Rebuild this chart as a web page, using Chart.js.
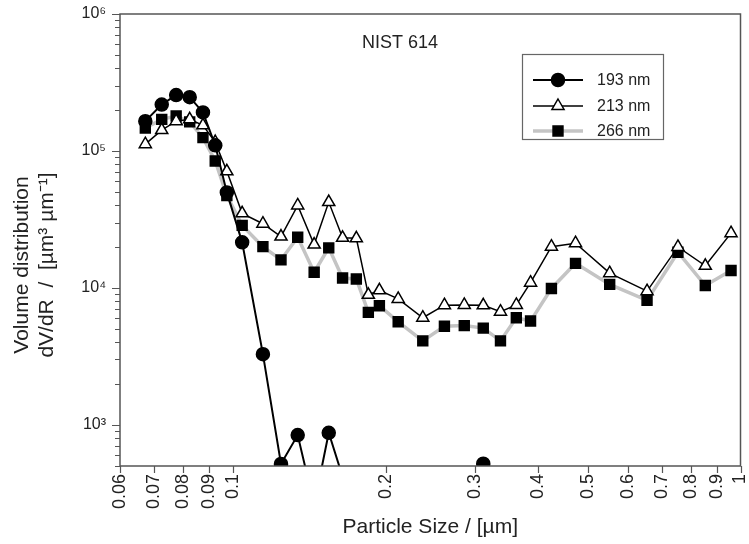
<!DOCTYPE html>
<html>
<head>
<meta charset="utf-8">
<script src="https://cdn.jsdelivr.net/npm/chart.js@4.4.1/dist/chart.umd.min.js"></script>
<style>
  html, body { margin: 0; padding: 0; background: #fff; }
  canvas { display: block; }
</style>
</head>
<body>
<canvas id="chart" width="749" height="544"></canvas>
<script>
// Particle size bins (µm)
const sizes = [0.0673, 0.0725, 0.0774, 0.0823, 0.0874, 0.0924, 0.0974, 0.1044,
  0.1147, 0.1245, 0.1343, 0.1447, 0.1546, 0.1646, 0.1752, 0.185,
  0.1945, 0.2118, 0.2368, 0.2612, 0.2858, 0.3115, 0.3368, 0.3619,
  0.386, 0.4243, 0.4733, 0.5526, 0.6546, 0.753, 0.8525, 0.958];

// dV/dR per wavelength
const v193 = [165000, 218000, 256000, 247000, 191000, 110000, 49800, 21500,
  3280, 518, 841, 260, 874, 418, 150, 80,
  60, 50, 40, 40, 50, 520, 440, 100,
  60, 50, 40, 40, 40, 40, 40, 40];
const v213 = [112000, 142000, 165000, 170000, 154000, 116000, 71000, 35000,
  29400, 23700, 40000, 20700, 42300, 23200, 23000, 8900,
  9600, 8300, 6050, 7470, 7500, 7450, 6700, 7500,
  10900, 20000, 21200, 12800, 9460, 19900, 14500, 25100];
const v266 = [147000, 170000, 180000, 163000, 125000, 84500, 47300, 28600,
  20000, 16000, 23400, 13000, 19600, 11800, 11600, 6620,
  7410, 5650, 4100, 5240, 5300, 5080, 4100, 6050,
  5720, 9900, 15100, 10600, 8100, 18200, 10400, 13400];

const seriesNames = ['193 nm', '213 nm', '266 nm'];
const xTicks = [0.06, 0.07, 0.08, 0.09, 0.1, 0.2, 0.3, 0.4, 0.5, 0.6, 0.7, 0.8, 0.9, 1];
const yTicks = [500, 600, 700, 800, 900,
  1000, 2000, 3000, 4000, 5000, 6000, 7000, 8000, 9000,
  10000, 20000, 30000, 40000, 50000, 60000, 70000, 80000, 90000,
  100000, 200000, 300000, 400000, 500000, 600000, 700000, 800000, 900000, 1000000];
const yLabels = { 1000: '10³', 10000: '10⁴', 100000: '10⁵', 1000000: '10⁶' };
const yTitle = ['Volume distribution', 'dV/dR  /  [µm³ µm⁻¹]'];

const FONT = "'Liberation Sans', Arial, sans-serif";
const INK = '#222';
const AXIS = '#555';

const toPoints = vals => sizes.map((x, i) => ({ x, y: vals[i] }));

const STYLES = [
  { line: '#000', width: 2, shape: 'circle', fill: '#000', stroke: '#000', r: 6.5 },
  { line: '#000', width: 1.5, shape: 'triangle', fill: '#fff', stroke: '#000', r: 7 },
  { line: '#c4c4c4', width: 3.5, shape: 'rect', fill: '#000', stroke: '#000', r: 7 },
];

function marker(ctx, st, x, y) {
  ctx.save();
  ctx.fillStyle = st.fill;
  ctx.strokeStyle = st.stroke;
  ctx.lineWidth = 1.5;
  ctx.beginPath();
  if (st.shape === 'circle') {
    ctx.arc(x, y, st.r, 0, Math.PI * 2);
  } else if (st.shape === 'triangle') {
    const h = st.r;
    ctx.moveTo(x, y - h);
    ctx.lineTo(x + h * 0.866, y + h * 0.5);
    ctx.lineTo(x - h * 0.866, y + h * 0.5);
    ctx.closePath();
  } else {
    const s = st.r * Math.SQRT1_2;
    ctx.rect(x - s, y - s, 2 * s, 2 * s);
  }
  ctx.fill();
  ctx.stroke();
  ctx.restore();
}

// frame, tick marks, y title, inner title, legend box
const decor = {
  id: 'decor',
  afterDatasetsDraw(chart) {
    const { ctx, chartArea: a, scales: { x, y } } = chart;
    ctx.save();
    ctx.strokeStyle = AXIS;
    ctx.lineWidth = 1.5;
    ctx.strokeRect(a.left, a.top, a.right - a.left, a.bottom - a.top);

    ctx.lineWidth = 1.2;
    ctx.beginPath();
    yTicks.forEach(v => {
      const py = Math.round(y.getPixelForValue(v)) + 0.5;
      const len = yLabels[v] ? 8 : 5;
      ctx.moveTo(a.left - len, py);
      ctx.lineTo(a.left, py);
    });
    xTicks.forEach(v => {
      const px = Math.round(x.getPixelForValue(v)) + 0.5;
      ctx.moveTo(px, a.bottom);
      ctx.lineTo(px, a.bottom + 7);
    });
    ctx.stroke();

    ctx.fillStyle = INK;
    ctx.textBaseline = 'middle';

    // y axis title, two lines
    ctx.save();
    ctx.font = `21px ${FONT}`;
    ctx.textAlign = 'center';
    ctx.translate(0, 265);
    ctx.rotate(-Math.PI / 2);
    ctx.fillText(yTitle[0], 0, 22);
    ctx.fillText(yTitle[1], 0, 47);
    ctx.restore();

    ctx.textAlign = 'left';
    ctx.font = `18px ${FONT}`;
    ctx.fillText('NIST 614', 362, 43);

    // legend
    ctx.strokeStyle = '#666';
    ctx.lineWidth = 1.2;
    ctx.strokeRect(522.5, 54.5, 141, 85);
    const rows = [80, 106, 131];
    ctx.font = `16px ${FONT}`;
    seriesNames.forEach((name, i) => {
      const st = STYLES[i];
      ctx.strokeStyle = st.line;
      ctx.lineWidth = st.width;
      ctx.beginPath();
      ctx.moveTo(533, rows[i]);
      ctx.lineTo(583, rows[i]);
      ctx.stroke();
      marker(ctx, st, 558, rows[i]);
      ctx.fillStyle = INK;
      ctx.fillText(name, 597, rows[i] + 1);
    });
    ctx.restore();
  },
};

new Chart(document.getElementById('chart'), {
  type: 'line',
  data: {
    datasets: [v193, v213, v266].map((vals, i) => ({
      label: seriesNames[i],
      data: toPoints(vals),
      borderColor: STYLES[i].line,
      borderWidth: STYLES[i].width,
      pointStyle: STYLES[i].shape,
      pointRadius: STYLES[i].r,
      pointBackgroundColor: STYLES[i].fill,
      pointBorderColor: STYLES[i].stroke,
      pointBorderWidth: 1.5,
      tension: 0,
      fill: false,
    })),
  },
  options: {
    responsive: false,
    animation: false,
    layout: { padding: { top: 14, right: 3, bottom: 0, left: 0 } },
    plugins: { legend: { display: false }, tooltip: { enabled: false } },
    scales: {
      x: {
        type: 'logarithmic',
        min: 0.06,
        max: 1,
        afterBuildTicks: s => { s.ticks = xTicks.map(v => ({ value: v })); },
        afterFit: s => { s.height = 78; s.paddingLeft = 0; s.paddingRight = 0; },
        grid: { display: false },
        border: { display: false },
        ticks: {
          autoSkip: false,
          minRotation: 90,
          maxRotation: 90,
          padding: 0,
          color: INK,
          font: { family: FONT, size: 18 },
          callback: v => String(v),
        },
        title: {
          display: true,
          text: 'Particle Size / [µm]',
          color: INK,
          font: { family: FONT, size: 21 },
          padding: { top: 0, bottom: 4 },
        },
      },
      y: {
        type: 'logarithmic',
        min: 500,
        max: 1000000,
        afterBuildTicks: s => { s.ticks = yTicks.map(v => ({ value: v })); },
        afterFit: s => { s.width = 120; s.paddingTop = 0; s.paddingBottom = 0; },
        grid: { display: false },
        border: { display: false },
        ticks: {
          autoSkip: false,
          padding: 6,
          color: INK,
          font: { family: FONT, size: 16 },
          callback: v => yLabels[v] || '',
        },
      },
    },
  },
  plugins: [decor],
});
</script>
</body>
</html>
